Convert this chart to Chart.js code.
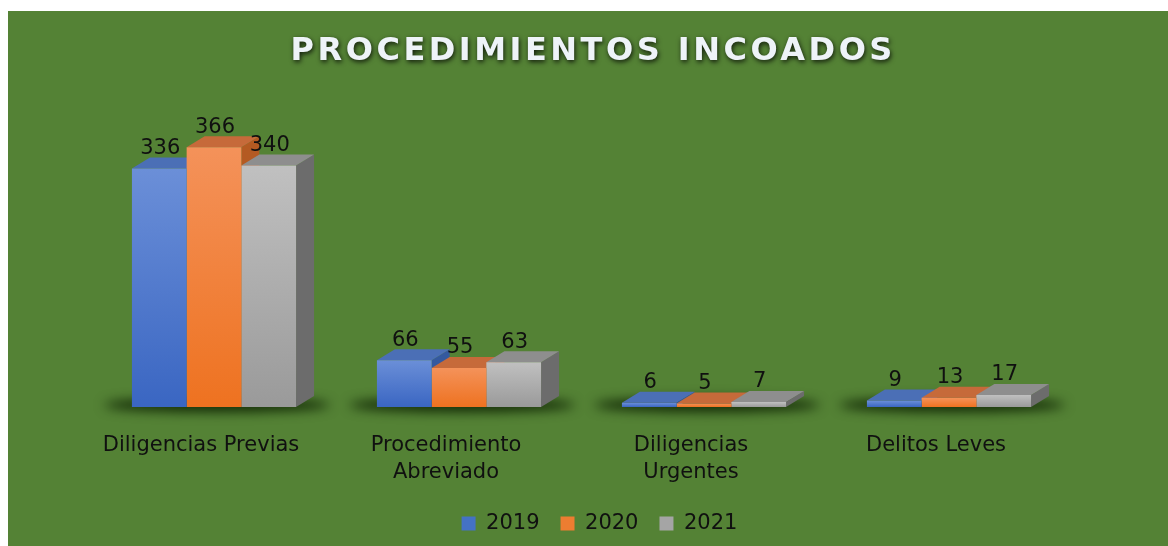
<!DOCTYPE html>
<html>
<head>
<meta charset="utf-8">
<script src="https://cdn.jsdelivr.net/npm/chart.js@4/dist/chart.umd.min.js"></script>
<style>
  html, body { margin: 0; padding: 0; background: #ffffff; }
  #wrap { position: absolute; left: 8px; top: 11px; width: 1160px; height: 535px; background: #548235; }
</style>
</head>
<body>
<div id="wrap"><canvas id="procChart" width="1160" height="535"></canvas></div>
<script>
// Chart data
const chartTitle = 'PROCEDIMIENTOS INCOADOS';
const categories = [['Diligencias Previas'], ['Procedimiento', 'Abreviado'], ['Diligencias', 'Urgentes'], ['Delitos Leves']];
const years = ['2019', '2020', '2021'];
const values2019 = [336, 66, 6, 9];
const values2020 = [366, 55, 5, 13];
const values2021 = [340, 63, 7, 17];

const DX = 18;   // 3d depth offset
const DY = 11;
const FONT = "'DejaVu Sans', sans-serif";

// vertical gradient for the front face of each bar
function frontGradient(top, bottom) {
    return function(context) {
        const chart = context.chart;
        const yScale = chart.scales.y;
        if (!chart.chartArea || !yScale || !context.parsed) return bottom;
        const y0 = yScale.getPixelForValue(0);
        const y1 = yScale.getPixelForValue(context.parsed.y);
        if (!isFinite(y0) || !isFinite(y1) || y0 === y1) return bottom;
        const g = chart.ctx.createLinearGradient(0, y1, 0, y0);
        g.addColorStop(0, top);
        g.addColorStop(1, bottom);
        return g;
    };
}

// floor shadow, side and top faces (fronts are drawn by chart.js)
const bars3d = {
    id: 'bars3d',
    afterLayout(chart) {
        // legend sits a bit right of centre in the original
        chart.legend.left += 18;
        chart.legend.right += 18;
    },
    beforeDatasetsDraw(chart) {
        const ctx = chart.ctx;
        const last = chart.data.datasets.length - 1;
        chart.data.labels.forEach((lbl, i) => {
            const a = chart.getDatasetMeta(0).data[i];
            const z = chart.getDatasetMeta(last).data[i];
            const l = a.x - a.width / 2;
            const r = z.x + z.width / 2 + DX;
            const b = a.base;
            ctx.save();
            ctx.filter = 'blur(6px)';
            ctx.fillStyle = 'rgba(10, 30, 0, 0.9)';
            ctx.beginPath();
            ctx.ellipse((l + r) / 2 - 6, b - 2, (r - l) / 2 + 22, 7, 0, 0, Math.PI * 2);
            ctx.fill();
            ctx.restore();
        });
        chart.data.datasets.forEach((ds, d) => {
            chart.getDatasetMeta(d).data.forEach(bar => {
                const l = bar.x - bar.width / 2, r = bar.x + bar.width / 2;
                const t = bar.y, b = bar.base;
                ctx.fillStyle = ds.sideColor;
                ctx.beginPath();
                ctx.moveTo(r, t); ctx.lineTo(r + DX, t - DY); ctx.lineTo(r + DX, b - DY); ctx.lineTo(r, b);
                ctx.closePath(); ctx.fill();
                ctx.fillStyle = ds.topColor;
                ctx.beginPath();
                ctx.moveTo(l, t); ctx.lineTo(l + DX, t - DY); ctx.lineTo(r + DX, t - DY); ctx.lineTo(r, t);
                ctx.closePath(); ctx.fill();
            });
        });
    },
    afterDatasetsDraw(chart) {
        const ctx = chart.ctx;
        ctx.save();
        ctx.font = '21px ' + FONT;
        ctx.fillStyle = '#101010';
        ctx.textAlign = 'center';
        ctx.textBaseline = 'middle';
        chart.data.datasets.forEach((ds, d) => {
            chart.getDatasetMeta(d).data.forEach((bar, i) => {
                ctx.fillText(String(ds.data[i]), bar.x + 1, bar.y - 20);
            });
        });
        ctx.restore();
    },
    afterDraw(chart) {
        const ctx = chart.ctx;
        ctx.save();
        ctx.font = 'bold 32px ' + FONT;
        ctx.letterSpacing = '3.5px';
        ctx.textBaseline = 'middle';
        ctx.textAlign = 'left';
        const w = ctx.measureText(chartTitle).width - 3.5;
        const x = chart.width / 2 + 3.5 - w / 2;
        ctx.shadowColor = 'rgba(0, 0, 0, 0.8)';
        ctx.shadowBlur = 5;
        ctx.shadowOffsetX = 1;
        ctx.shadowOffsetY = 2;
        ctx.fillStyle = '#eef3f8';
        ctx.fillText(chartTitle, x, 41);
        ctx.restore();
    }
};

new Chart(document.getElementById('procChart'), {
    type: 'bar',
    data: {
        labels: categories,
        datasets: [{
            label: years[0],
            data: values2019,
            backgroundColor: frontGradient('#6b8fd8', '#3a66c2'),
            legendColor: '#4472c4',
            topColor: '#4b6fb6',
            sideColor: '#34599f'
        }, {
            label: years[1],
            data: values2020,
            backgroundColor: frontGradient('#f4925a', '#ee7220'),
            legendColor: '#ed7d31',
            topColor: '#c66a3a',
            sideColor: '#b45a22'
        }, {
            label: years[2],
            data: values2021,
            backgroundColor: frontGradient('#c0c0c0', '#9a9a9a'),
            legendColor: '#a5a5a5',
            topColor: '#8e8e8e',
            sideColor: '#6c6c6c'
        }]
    },
    options: {
        responsive: false,
        animation: false,
        layout: { padding: { top: 112, left: 83.5, right: 96.5, bottom: 2 } },
        datasets: {
            bar: { categoryPercentage: 0.67, barPercentage: 1.0, borderWidth: 0 }
        },
        plugins: {
            title: { display: false },
            tooltip: { enabled: false },
            legend: {
                position: 'bottom',
                labels: {
                    color: '#101010',
                    font: { family: FONT, size: 21 },
                    boxWidth: 14,
                    boxHeight: 14,
                    padding: 21,
                    generateLabels: function(chart) {
                        const items = Chart.defaults.plugins.legend.labels.generateLabels(chart);
                        items.forEach(it => {
                            const ds = chart.data.datasets[it.datasetIndex];
                            it.fillStyle = ds.legendColor;
                            it.strokeStyle = ds.legendColor;
                            it.lineWidth = 0;
                        });
                        return items;
                    }
                }
            }
        },
        scales: {
            x: {
                grid: { display: false, drawTicks: false },
                border: { display: false },
                ticks: {
                    color: '#101010',
                    font: { family: FONT, size: 21, lineHeight: 1.24 },
                    padding: 26,
                    labelOffset: -13,
                    maxRotation: 0,
                    autoSkip: false
                },
                afterFit: function(scale) { scale.height = 85; }
            },
            y: { display: false, min: 0, max: 400 }
        }
    },
    plugins: [bars3d]
});
</script>
</body>
</html>
